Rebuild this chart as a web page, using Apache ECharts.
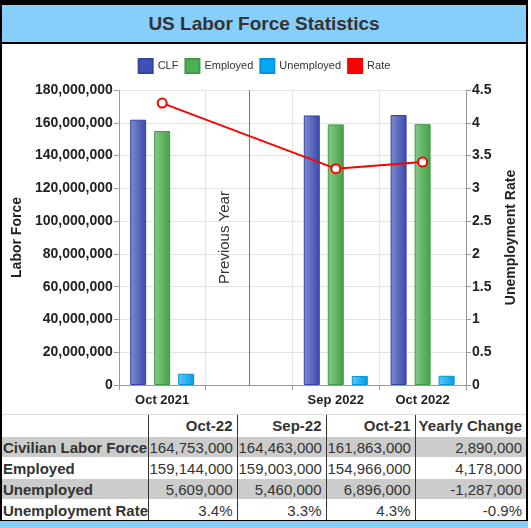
<!DOCTYPE html>
<html lang="en">
<head>
<meta charset="UTF-8">
<title>US Labor Force Statistics</title>
<script src="https://cdn.jsdelivr.net/npm/echarts@6/dist/echarts.min.js"></script>
<style>
    body { margin: 0; background: #fff; font-family: "Liberation Sans", Arial, sans-serif; }
    #frame { position: absolute; left: 0; top: 0; width: 524px; border: 2px solid #000; border-top-width: 5px; background: #fff; }
    #title { height: 37px; line-height: 37px; background: #87cefa; border-bottom: 2px solid #000; text-align: center; font-size: 19px; font-weight: bold; color: #333; }
    #chart { width: 524px; height: 370px; }
    #stats { border-collapse: collapse; width: 524px; font-size: 15px; color: #333; table-layout: fixed; }
    #stats td, #stats th { padding: 0 4px 0 1px; height: 20px; text-align: right; border-left: 1px solid #333; border-top: 1px solid #fff; white-space: nowrap; overflow: hidden; }
    #stats th { height: 21px; border-top: 1px solid #ddd; }
    #stats td:first-child, #stats th:first-child { border-left: none; text-align: left; font-weight: bold; }
    #stats tr.grey td { background: #cccccc; }
    #strip { position: absolute; left: 0; top: 521px; width: 528px; height: 7px; background: #87cefa; }
</style>
</head>
<body>
<div id="frame">
    <div id="title">US Labor Force Statistics</div>
    <div id="chart"></div>
    <table id="stats"></table>
</div>
<div id="strip"></div>
<script>
    // chart data
    var categories = ['Oct 2021', '', 'Sep 2022', 'Oct 2022'];
    var clfData = [161863000, null, 164463000, 164753000];
    var employedData = [154966000, null, 159003000, 159144000];
    var unemployedData = [6896000, null, 5460000, 5609000];
    var rateData = [4.3, null, 3.3, 3.4];
    var dividerCategory = '';
    var dividerLabel = 'Previous Year';

    // table data
    var tableHeaders = ['', 'Oct-22', 'Sep-22', 'Oct-21', 'Yearly Change'];
    var tableRows = ['Civilian Labor Force', 'Employed', 'Unemployed', 'Unemployment Rate'];
    var oct22 = ['164,753,000', '159,144,000', '5,609,000', '3.4%'];
    var sep22 = ['164,463,000', '159,003,000', '5,460,000', '3.3%'];
    var oct21 = ['161,863,000', '154,966,000', '6,896,000', '4.3%'];
    var yearlyChange = ['2,890,000', '4,178,000', '-1,287,000', '-0.9%'];

    var colWidths = [146, 89, 89, 89, 111];
    var html = '<colgroup>';
    for (var c = 0; c < colWidths.length; c++) {
        html += '<col style="width:' + colWidths[c] + 'px">';
    }
    html += '</colgroup><tr>';
    for (var h = 0; h < tableHeaders.length; h++) {
        html += '<th>' + tableHeaders[h] + '</th>';
    }
    html += '</tr>';
    for (var r = 0; r < tableRows.length; r++) {
        html += '<tr class="' + (r % 2 === 0 ? 'grey' : '') + '"><td>' + tableRows[r] + '</td><td>' + oct22[r] +
            '</td><td>' + sep22[r] + '</td><td>' + oct21[r] + '</td><td>' + yearlyChange[r] + '</td></tr>';
    }
    document.getElementById('stats').innerHTML = html;

    var fontFamily = '"Liberation Sans", Arial, sans-serif';

    var grad = function(light, dark) {
        return new echarts.graphic.LinearGradient(0, 0, 1, 0, [
            {offset: 0, color: light},
            {offset: 1, color: dark}
        ]);
    };

    var addCommas = function(v) {
        return String(v).replace(/\B(?=(\d{3})+(?!\d))/g, ',');
    };

    var myChart = echarts.init(document.getElementById('chart'));

    var option = {
        animation: false,
        textStyle: {fontFamily: fontFamily},
        legend: {
            top: 9,
            left: 'center',
            itemWidth: 14,
            itemHeight: 14,
            itemGap: 6,
            icon: 'rect',
            textStyle: {fontSize: 11, color: '#333', fontFamily: fontFamily},
            data: [
                {name: 'CLF', itemStyle: {color: '#3f51b5'}},
                {name: 'Employed', itemStyle: {color: '#4caf50'}},
                {name: 'Unemployed', itemStyle: {color: '#03a9f4'}},
                {name: 'Rate', itemStyle: {color: '#ff0000'}}
            ]
        },
        grid: {left: 113, right: 58, top: 46, bottom: 29},
        xAxis: {
            type: 'category',
            data: categories,
            boundaryGap: true,
            axisLine: {lineStyle: {color: '#999'}},
            axisTick: {show: true, lineStyle: {color: '#999'}},
            axisLabel: {fontSize: 13, fontWeight: 'bold', color: '#222', margin: 9},
            splitLine: {show: true, lineStyle: {color: '#e3e3e3'}}
        },
        yAxis: [{
            type: 'value',
            name: 'Labor Force',
            nameLocation: 'middle',
            nameGap: 93,
            nameTextStyle: {fontSize: 14, fontWeight: 'bold', color: '#222'},
            min: 0,
            max: 180000000,
            interval: 20000000,
            axisLine: {show: true, lineStyle: {color: '#999'}},
            axisTick: {show: true, length: 5, lineStyle: {color: '#999'}},
            axisLabel: {fontSize: 14, fontWeight: 'bold', color: '#222', margin: 6, formatter: addCommas},
            splitLine: {lineStyle: {color: '#e3e3e3'}}
        }, {
            type: 'value',
            name: 'Unemployment Rate',
            nameLocation: 'middle',
            nameGap: 38,
            nameTextStyle: {fontSize: 14, fontWeight: 'bold', color: '#222'},
            min: 0,
            max: 4.5,
            interval: 0.5,
            axisLine: {show: true, lineStyle: {color: '#999'}},
            axisTick: {show: true, length: 5, lineStyle: {color: '#999'}},
            axisLabel: {fontSize: 14, fontWeight: 'bold', color: '#222', margin: 6},
            splitLine: {show: false}
        }],
        series: [{
            name: 'CLF',
            type: 'bar',
            barWidth: 16,
            barGap: '50%',
            data: clfData,
            itemStyle: {color: grad('#7f8bd0', '#3949ab'), borderColor: '#3545a5', borderWidth: 1}
        }, {
            name: 'Employed',
            type: 'bar',
            barWidth: 16,
            data: employedData,
            itemStyle: {color: grad('#86ca89', '#43a047'), borderColor: '#3f9c43', borderWidth: 1}
        }, {
            name: 'Unemployed',
            type: 'bar',
            barWidth: 16,
            data: unemployedData,
            itemStyle: {color: grad('#5cc8f8', '#039be5'), borderColor: '#0793d6', borderWidth: 1}
        }, {
            name: 'Rate',
            type: 'line',
            yAxisIndex: 1,
            data: rateData,
            connectNulls: true,
            symbol: 'circle',
            symbolSize: 9,
            z: 5,
            lineStyle: {color: '#ff0000', width: 2},
            itemStyle: {color: '#fff', borderColor: '#ff0000', borderWidth: 2},
            markLine: {
                silent: true,
                symbol: ['none', 'none'],
                z: 1,
                lineStyle: {color: '#777', width: 1, type: 'solid'},
                label: {
                    show: true,
                    formatter: dividerLabel,
                    position: 'insideMiddleTop',
                    distance: 17,
                    fontSize: 15,
                    color: '#333',
                    fontFamily: fontFamily
                },
                data: [{xAxis: categories.indexOf(dividerCategory)}]
            }
        }]
    };

    myChart.setOption(option);
</script>
</body>
</html>
